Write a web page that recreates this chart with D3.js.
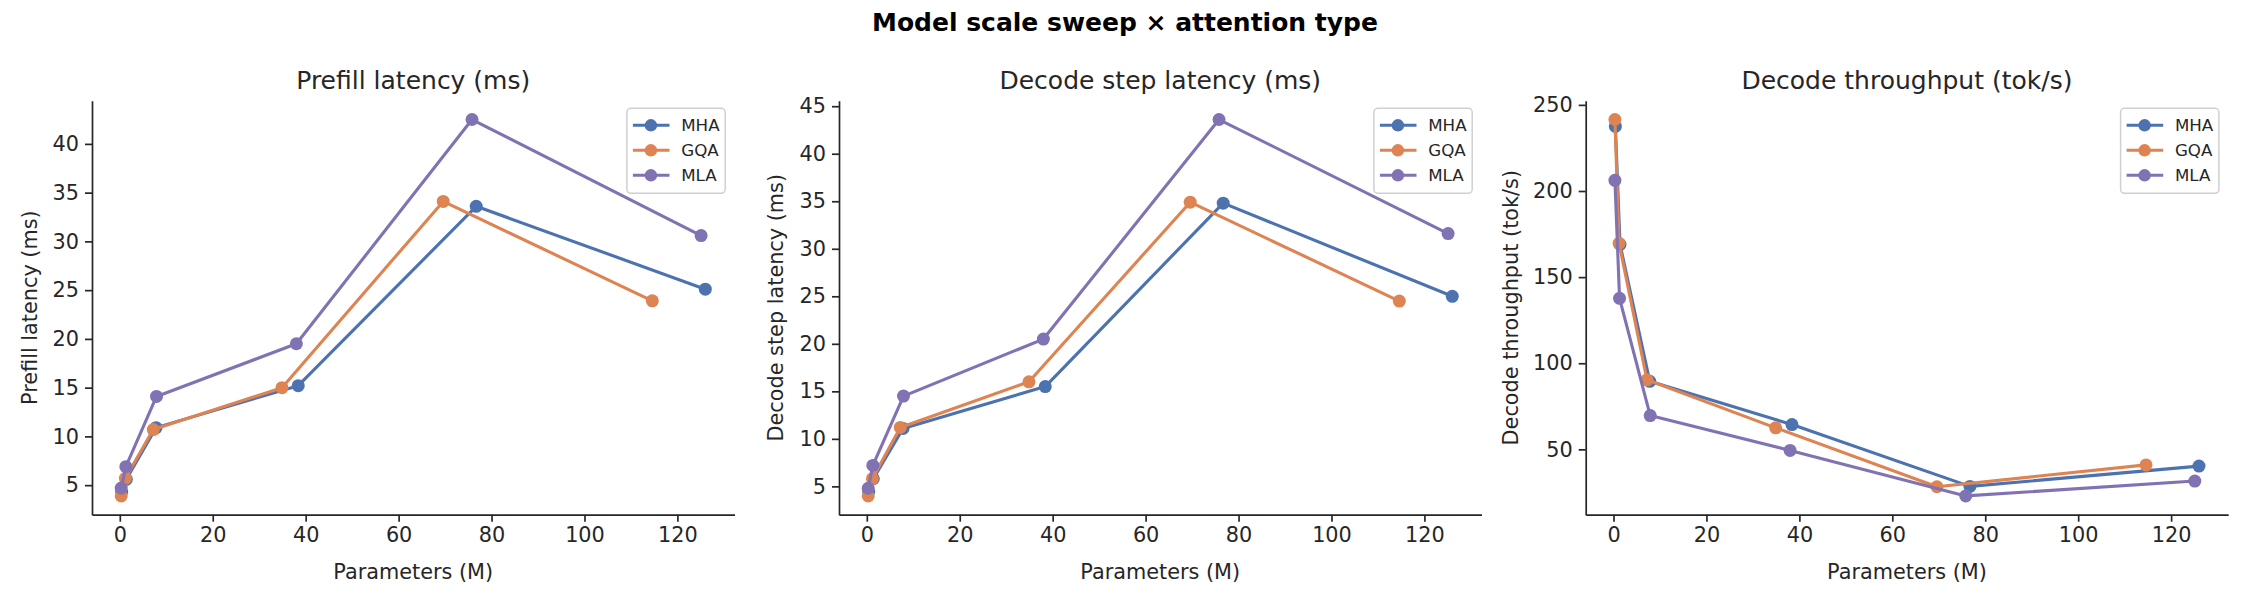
<!DOCTYPE html>
<html>
<head>
<meta charset="utf-8">
<script src="https://cdn.jsdelivr.net/npm/d3@7"></script>
<style>
  body { margin: 0; background: #fff; }
  svg { display: block; font-family: "DejaVu Sans", sans-serif; }
</style>
</head>
<body>
<svg id="chart" width="2250" height="600"></svg>
<script>
// attention types, in plotting order
var attnTypes = ["MHA", "GQA", "MLA"];
var colors = ["#4C72B0", "#DD8452", "#8172B3"];

// parameter counts (M) per attention type
var paramsMHA = [0.4, 1.4, 7.8, 38.4, 76.7, 126.0];
var paramsGQA = [0.3, 1.2, 7.2, 34.9, 69.6, 114.6];
var paramsMLA = [0.3, 1.3, 7.9, 38.0, 75.8, 125.1];

// prefill latency (ms)
var prefillMHA = [4.3, 5.6, 10.9, 15.2, 33.6, 25.1];
var prefillGQA = [3.9, 5.7, 10.7, 15.0, 34.1, 23.9];
var prefillMLA = [4.7, 6.9, 14.1, 19.5, 42.5, 30.6];

// decode step latency (ms)
var decodeMHA = [4.4, 5.8, 11.1, 15.5, 34.8, 25.0];
var decodeGQA = [4.0, 5.8, 11.2, 16.0, 34.9, 24.5];
var decodeMLA = [4.8, 7.2, 14.5, 20.5, 43.6, 31.6];

// decode throughput (tok/s)
var tputMHA = [237.5, 169.0, 89.5, 64.4, 28.5, 40.3];
var tputGQA = [241.5, 169.6, 90.4, 62.5, 28.3, 41.0];
var tputMLA = [206.2, 137.7, 69.6, 49.4, 23.0, 31.6];

var xTicks = [0, 20, 40, 60, 80, 100, 120];
var prefillTicks = [5, 10, 15, 20, 25, 30, 35, 40];
var decodeTicks = [5, 10, 15, 20, 25, 30, 35, 40, 45];
var tputTicks = [50, 100, 150, 200, 250];

var panels = [
    {title: "Prefill latency (ms)", ylabel: "Prefill latency (ms)",
     ys: [prefillMHA, prefillGQA, prefillMLA], ticks: prefillTicks},
    {title: "Decode step latency (ms)", ylabel: "Decode step latency (ms)",
     ys: [decodeMHA, decodeGQA, decodeMLA], ticks: decodeTicks},
    {title: "Decode throughput (tok/s)", ylabel: "Decode throughput (tok/s)",
     ys: [tputMHA, tputGQA, tputMLA], ticks: tputTicks}
];
var xs = [paramsMHA, paramsGQA, paramsMLA];

var ink = "#262626";
var axLeft = [92, 839, 1585.7],
    axTop = 100.7,
    axW = 642.5,
    axH = 414;

var svg = d3.select("#chart");

svg.append("text")
    .attr("x", 1125)
    .attr("y", 31)
    .attr("text-anchor", "middle")
    .style("font-size", "25px")
    .style("font-weight", "bold")
    .style("fill", "#000")
    .text("Model scale sweep \u00d7 attention type");

// matplotlib style 5% margins
function padded(vals) {
    var e = d3.extent(vals);
    var m = (e[1] - e[0]) * 0.05;
    return [e[0] - m, e[1] + m];
}

panels.forEach(function (p, pi) {
    var g = svg.append("g")
        .attr("transform", "translate(" + axLeft[pi] + "," + axTop + ")");

    var x = d3.scaleLinear()
        .domain(padded(d3.merge(xs)))
        .range([0, axW]);
    var y = d3.scaleLinear()
        .domain(padded(d3.merge(p.ys)))
        .range([axH, 0]);

    var line = d3.line()
        .x(function (d) { return x(d[0]); })
        .y(function (d) { return y(d[1]); });

    attnTypes.forEach(function (name, si) {
        var pts = d3.zip(xs[si], p.ys[si]);
        g.append("path")
            .attr("d", line(pts))
            .attr("fill", "none")
            .attr("stroke", colors[si])
            .attr("stroke-width", 3.1)
            .attr("stroke-linejoin", "round")
            .attr("stroke-linecap", "round");
        g.selectAll(".pt" + si)
            .data(pts)
            .enter().append("circle")
            .attr("cx", function (d) { return x(d[0]); })
            .attr("cy", function (d) { return y(d[1]); })
            .attr("r", 6.5)
            .attr("fill", colors[si]);
    });

    var xAxis = d3.axisBottom(x)
        .tickValues(xTicks)
        .tickSizeInner(7)
        .tickSizeOuter(0)
        .tickPadding(6);
    var yAxis = d3.axisLeft(y)
        .tickValues(p.ticks)
        .tickSizeInner(7)
        .tickSizeOuter(0)
        .tickPadding(6);

    var gx = g.append("g")
        .attr("transform", "translate(0," + axH + ")")
        .call(xAxis);
    var gy = g.append("g").call(yAxis);

    [gx, gy].forEach(function (a) {
        a.select(".domain").attr("stroke", ink).attr("stroke-width", 1.7);
        a.selectAll(".tick line").attr("stroke", ink).attr("stroke-width", 1.7);
        a.selectAll(".tick text")
            .style("font-family", "DejaVu Sans")
            .style("font-size", "20.8px")
            .attr("fill", ink);
    });

    g.append("text")
        .attr("x", axW / 2)
        .attr("y", -12)
        .attr("text-anchor", "middle")
        .style("font-size", "25px")
        .style("fill", ink)
        .text(p.title);

    g.append("text")
        .attr("x", axW / 2)
        .attr("y", axH + 64)
        .attr("text-anchor", "middle")
        .style("font-size", "20.8px")
        .style("fill", ink)
        .text("Parameters (M)");

    var ylx = [30, 776, 1510.6][pi] - axLeft[pi];
    g.append("text")
        .attr("transform", "translate(" + (ylx + 7) + "," + axH / 2 + ") rotate(-90)")
        .attr("text-anchor", "middle")
        .style("font-size", "20.8px")
        .style("fill", ink)
        .text(p.ylabel);

    // legend
    var lg = g.append("g")
        .attr("transform", "translate(" + (axW - 107.6) + ",7.6)");
    lg.append("rect")
        .attr("width", 98.3)
        .attr("height", 85)
        .attr("rx", 4)
        .attr("fill", "#fff")
        .attr("fill-opacity", 0.8)
        .attr("stroke", "#d0d0d0")
        .attr("stroke-width", 1.5);
    attnTypes.forEach(function (name, si) {
        var ry = 17 + si * 25;
        lg.append("line")
            .attr("x1", 6).attr("x2", 42.6)
            .attr("y1", ry).attr("y2", ry)
            .attr("stroke", colors[si])
            .attr("stroke-width", 3.1);
        lg.append("circle")
            .attr("cx", 24).attr("cy", ry)
            .attr("r", 6.25)
            .attr("fill", colors[si]);
        lg.append("text")
            .attr("x", 54.3)
            .attr("y", ry + 6)
            .style("font-size", "16.7px")
            .style("fill", ink)
            .text(name);
    });
});
</script>
</body>
</html>
